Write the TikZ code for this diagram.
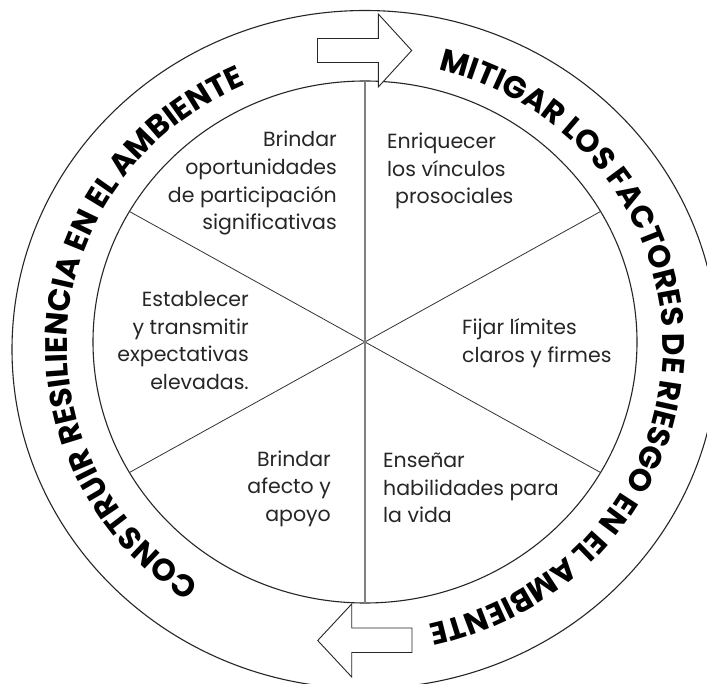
\documentclass[tikz,border=0pt]{standalone}
\usepackage{fontspec}
\setmainfont{Poppins}
\usetikzlibrary{decorations.text}
\newcommand\ringfont{\fontsize{31}{31}\selectfont\bfseries}

\begin{document}
\begin{tikzpicture}[x=1pt,y=-1pt,
		rim/.style={draw=black!85, line width=1.1pt},
		spoke/.style={draw=black!80, line width=0.8pt},
		midline/.style={draw=black!50, line width=2pt},
		blocktext/.style={inner sep=0pt, text=black!85, font=\fontsize{20.5}{27.6}\selectfont},
		bigarrow/.style={draw=black!85, line width=0.9pt, fill=white, line join=miter}]
		\clip (0,0) rectangle (707,684);
		\fill[white] (0,0) rectangle (707,684);
		\coordinate (c) at (365,342);
		\coordinate (oc) at (365,349.5);
		\foreach \a in {30,90,...,330}
			\coordinate (r\a) at ({365+272*cos(\a)},{342-261*sin(\a)});
		
		\draw[rim] (oc) ellipse [x radius=353pt, y radius=339pt];
		\draw[rim] (c) ellipse [x radius=272pt, y radius=261pt];
		\draw[spoke] (r30) -- (r210);
		\draw[spoke] (r150) -- (r330);
		\draw[midline] (r90) -- (r270);
		
		\draw[bigarrow] (317.5,38.5) --++(60.8,0) --++(0,-24.5) --++(33.4,36.5) --++(-33.4,36.5) --++(0,-24.5) --++(-60.8,0) -- cycle;
		\draw[bigarrow] (412,628) --++(-60.3,0) --++(0,-24) --++(-34,36.5) --++(34,36.5) --++(0,-24.5) --++(60.3,0) -- cycle;
		
		% base anchor sits on the last line
		\node[blocktext, align=right, anchor=base east] (oport) at (337,229.8) {Brindar\\oportunidades\\de participación\\significativas};
		\node[blocktext, align=left, anchor=base west] (vinc) at (387,203.7) {Enriquecer\\los vínculos\\\hspace*{8pt}prosociales};
		\node[blocktext, align=right, anchor=base east] (expect) at (249,389.5) {Establecer\\y transmitir\\expectativas\\elevadas.};
		\node[blocktext, align=left, anchor=base west] (limites) at (462,362.2) {Fijar límites\\claros y firmes};
		\node[blocktext, align=right, anchor=base east] (afecto) at (331,521.2) {Brindar\\afecto y\\apoyo};
		\node[blocktext, align=left, anchor=base west] (habil) at (383,522.8) {Enseñar\\habilidades para\\la vida};
		
		\path[decorate, decoration={text along path, text align=center,
			text={|\ringfont|CONSTRUIR RESILIENCIA EN EL AMBIENTE}}]
			plot[domain=255:95, samples=90] ({365+298*cos(\x)},{346-285*sin(\x)});
		\path[decorate, decoration={text along path, text align=center,
			text={|\ringfont|MITIGAR LOS FACTORES DE RIESGO EN EL AMBIENTE}}]
			plot[domain=89:-91, samples=100] ({365+298*cos(\x)},{346-285*sin(\x)});
	\end{tikzpicture}
\end{document}
